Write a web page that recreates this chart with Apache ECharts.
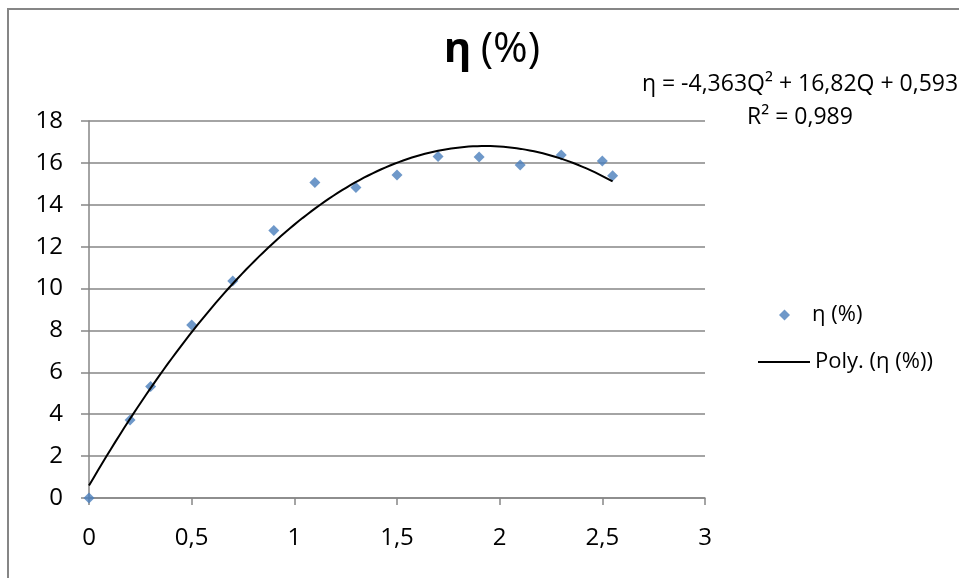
<!DOCTYPE html>
<html>
<head>
<meta charset="utf-8">
<script src="https://cdn.jsdelivr.net/npm/echarts@6/dist/echarts.min.js"></script>
<style>
  html, body { margin: 0; padding: 0; background: #fff; }
  #chart { width: 959px; height: 578px; }
</style>
</head>
<body>
<div id="chart"></div>
<script>
// Measured flow rate Q and efficiency η (%)
const flowQ = [0, 0.2, 0.3, 0.5, 0.7, 0.9, 1.1, 1.3, 1.5, 1.7, 1.9, 2.1, 2.3, 2.5, 2.55];
const efficiency = [0, 3.72, 5.32, 8.26, 10.36, 12.77, 15.06, 14.82, 15.42, 16.30, 16.28, 15.90, 16.38, 16.09, 15.38];

// Second-order trendline coefficients: c0 + c1*Q + c2*Q^2
const trendCoef = [0.593, 16.82, -4.363];
const trendLabel = ['η = -4,363Q² + 16,82Q + 0,593', 'R² = 0,989'];

const seriesName = 'η (%)';
const trendName = 'Poly. (η (%))';

const xTicks = [0, 0.5, 1, 1.5, 2, 2.5, 3];
const yTicks = [0, 2, 4, 6, 8, 10, 12, 14, 16, 18];

const FONT = '"Open Sans", "DejaVu Sans", sans-serif';
const GRAY = '#868686';
const BLUE = '#4a7ebb';

// Trendline sampled over the measured range
const qMin = flowQ[0], qMax = flowQ[flowQ.length - 1];
const trendPts = [];
const steps = 120;
for (let i = 0; i <= steps; i++) {
  const q = qMin + (qMax - qMin) * i / steps;
  trendPts.push([q, trendCoef[0] + trendCoef[1] * q + trendCoef[2] * q * q]);
}

const chart = echarts.init(document.getElementById('chart'), null, { renderer: 'canvas' });
const fmt = v => String(v).replace('.', ',');
const legendText = { fontFamily: FONT, fontSize: 22, color: '#000', lineHeight: 26 };

chart.setOption({
  animation: false,
  backgroundColor: '#fff',
  textStyle: { fontFamily: FONT },
  graphic: [{
    type: 'rect', silent: true, z: -1,
    shape: { x: 8, y: 9, width: 1000, height: 1000 },
    style: { fill: 'none', stroke: GRAY, lineWidth: 2 }
  }],
  title: [{
    text: '{b|η}  {n|(%)}',
    left: 487, top: 24, textAlign: 'center',
    textStyle: {
      rich: {
        b: { fontFamily: FONT, fontSize: 42, fontWeight: 'bold', color: '#000' },
        n: { fontFamily: FONT, fontSize: 42, fontWeight: 'normal', color: '#000' }
      }
    }
  }, {
    text: trendLabel.join('\n'),
    left: 795, top: 63, textAlign: 'center',
    textStyle: { fontFamily: FONT, fontSize: 23, fontWeight: 'normal', color: '#000', lineHeight: 33, align: 'center' }
  }],
  legend: [{
    orient: 'vertical',
    left: 774, top: 297,
    itemWidth: 11, itemHeight: 11,
    textStyle: Object.assign({ padding: [0, 0, 0, 17] }, legendText),
    data: [{ name: seriesName, icon: 'diamond', itemStyle: { color: BLUE } }]
  }, {
    orient: 'vertical',
    left: 753, top: 344,
    itemWidth: 52, itemHeight: 2,
    textStyle: Object.assign({ padding: [0, 0, 0, 0] }, legendText),
    data: [{ name: trendName, icon: 'rect', itemStyle: { color: '#000' } }]
  }],
  grid: { left: 89, right: 254, top: 121, bottom: 80, containLabel: false },
  xAxis: {
    type: 'value', min: xTicks[0], max: xTicks[xTicks.length - 1], interval: 0.5,
    axisLine: { show: true, lineStyle: { color: GRAY, width: 1.5 } },
    axisTick: { show: true, length: 7, lineStyle: { color: GRAY, width: 1.5 } },
    splitLine: { show: false },
    axisLabel: { formatter: fmt, fontSize: 24, color: '#000', margin: 28, fontFamily: FONT }
  },
  yAxis: {
    type: 'value', min: yTicks[0], max: yTicks[yTicks.length - 1], interval: 2,
    axisLine: { show: true, lineStyle: { color: GRAY, width: 1.5 } },
    axisTick: { show: true, length: 8, lineStyle: { color: GRAY, width: 1.5 } },
    splitLine: { show: true, lineStyle: { color: GRAY, width: 1.5 } },
    axisLabel: { formatter: fmt, fontSize: 24, color: '#000', margin: 26, fontFamily: FONT }
  },
  series: [{
    name: seriesName,
    type: 'scatter',
    symbol: 'diamond',
    symbolSize: 11,
    itemStyle: { color: BLUE },
    data: flowQ.map((q, i) => [q, efficiency[i]]),
    z: 3
  }, {
    name: trendName,
    type: 'line',
    showSymbol: false,
    lineStyle: { color: '#000', width: 2 },
    data: trendPts,
    z: 4
  }]
});
</script>
</body>
</html>
